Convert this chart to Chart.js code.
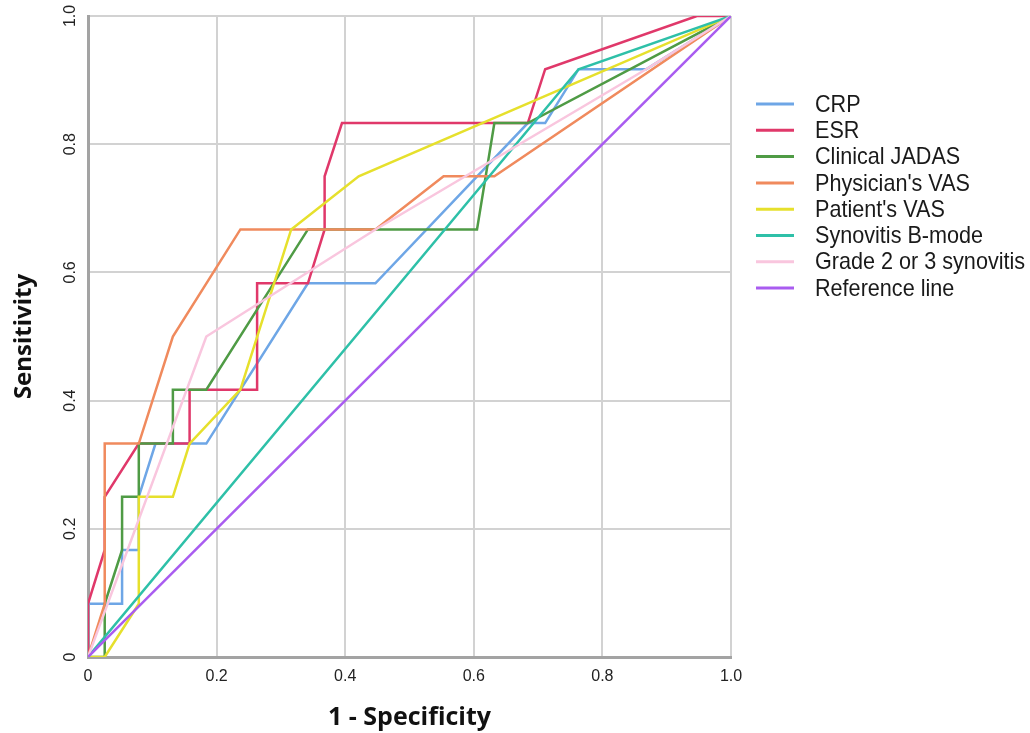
<!DOCTYPE html>
<html>
<head>
<meta charset="utf-8">
<script src="https://cdn.jsdelivr.net/npm/chart.js@4.4.1/dist/chart.umd.min.js"></script>
<style>
  html, body { margin: 0; padding: 0; background: #fff; }
</style>
</head>
<body>
<canvas id="roc" width="1030" height="733"></canvas>
<script>
// ROC curves: x = 1 - specificity, y = sensitivity
const seriesNames = ['CRP', 'ESR', 'Clinical JADAS', "Physician's VAS", "Patient's VAS",
  'Synovitis B-mode', 'Grade 2 or 3 synovitis', 'Reference line'];
const seriesColors = ['#6ea6e6', '#e0386a', '#4f9b45', '#f08a5d', '#e6e02c',
  '#2ec0a8', '#f9c6de', '#a95cf0'];

const crpX = [0, 0, 0.053, 0.053, 0.079, 0.079, 0.105, 0.184, 0.342, 0.447, 0.684, 0.711, 0.763, 0.868, 1];
const crpY = [0, 0.083, 0.083, 0.167, 0.167, 0.25, 0.333, 0.333, 0.583, 0.583, 0.833, 0.833, 0.917, 0.917, 1];

const esrX = [0, 0, 0.026, 0.026, 0.079, 0.158, 0.158, 0.263, 0.263, 0.342, 0.368, 0.368, 0.395, 0.684, 0.711, 0.947, 1];
const esrY = [0, 0.083, 0.167, 0.25, 0.333, 0.333, 0.417, 0.417, 0.583, 0.583, 0.667, 0.75, 0.833, 0.833, 0.917, 1, 1];

const jadasX = [0, 0.026, 0.026, 0.053, 0.053, 0.079, 0.079, 0.132, 0.132, 0.184, 0.342, 0.605, 0.632, 0.684, 1];
const jadasY = [0, 0, 0.083, 0.167, 0.25, 0.25, 0.333, 0.333, 0.417, 0.417, 0.667, 0.667, 0.833, 0.833, 1];

const physX = [0, 0.026, 0.026, 0.079, 0.132, 0.237, 0.447, 0.553, 0.632, 1];
const physY = [0, 0.083, 0.333, 0.333, 0.5, 0.667, 0.667, 0.75, 0.75, 1];

const patX = [0, 0.026, 0.079, 0.079, 0.132, 0.158, 0.237, 0.316, 0.421, 1];
const patY = [0, 0, 0.083, 0.25, 0.25, 0.333, 0.417, 0.667, 0.75, 1];

const bmodeX = [0, 0.763, 1];
const bmodeY = [0, 0.917, 1];

const gradeX = [0, 0.184, 0.447, 0.868, 1];
const gradeY = [0, 0.5, 0.667, 0.917, 1];

const refX = [0, 1];
const refY = [0, 1];

const xTicks = [0, 0.2, 0.4, 0.6, 0.8, 1.0];
const yTicks = [0, 0.2, 0.4, 0.6, 0.8, 1.0];

const curves = [[crpX, crpY], [esrX, esrY], [jadasX, jadasY], [physX, physY],
  [patX, patY], [bmodeX, bmodeY], [gradeX, gradeY], [refX, refY]];

function toPoints(xs, ys) {
  return xs.map((x, i) => ({ x: x, y: ys[i] }));
}

const datasets = curves.map((c, i) => ({
  label: seriesNames[i],
  data: toPoints(c[0], c[1]),
  borderColor: seriesColors[i],
  backgroundColor: seriesColors[i],
  borderWidth: 2.5,
  pointRadius: 0,
  tension: 0,
  fill: false,
  order: curves.length - i
}));

const tickLabel = v => (v === 0 ? '0' : v.toFixed(1));

// legend drawn beside the plot, lines + slightly condensed text like the original
const sideLegend = {
  id: 'sideLegend',
  afterDraw(chart) {
    const ctx = chart.ctx;
    const x0 = chart.chartArea.right + 25;
    ctx.save();
    chart.data.datasets.forEach((ds, i) => {
      const y = 104 + i * 26.3;
      ctx.strokeStyle = ds.borderColor;
      ctx.lineWidth = 3;
      ctx.beginPath();
      ctx.moveTo(x0, y);
      ctx.lineTo(x0 + 38, y);
      ctx.stroke();
      ctx.save();
      ctx.translate(x0 + 59, y + 1);
      ctx.scale(0.9, 1);
      ctx.fillStyle = '#1a1a1a';
      ctx.font = '24px "Liberation Sans", Arial, sans-serif';
      ctx.textBaseline = 'middle';
      ctx.fillText(ds.label, 0, 0);
      ctx.restore();
    });
    ctx.restore();
  }
};

const whiteBg = {
  id: 'whiteBg',
  beforeDraw(chart) {
    const ctx = chart.ctx;
    ctx.save();
    ctx.fillStyle = '#ffffff';
    ctx.fillRect(0, 0, chart.width, chart.height);
    ctx.restore();
  }
};

new Chart(document.getElementById('roc'), {
  type: 'line',
  data: { datasets: datasets },
  plugins: [whiteBg, sideLegend],
  options: {
    responsive: false,
    animation: false,
    devicePixelRatio: 1,
    layout: { padding: { top: 16, right: 299, bottom: 0, left: 0 } },
    plugins: {
      legend: { display: false },
      tooltip: { enabled: false }
    },
    scales: {
      x: {
        type: 'linear',
        min: 0,
        max: 1,
        afterBuildTicks: s => { s.ticks = xTicks.map(v => ({ value: v })); },
        afterFit: s => { s.height = 76; },
        ticks: {
          callback: tickLabel,
          color: '#222',
          padding: 10,
          font: { family: '"Liberation Sans", Arial, sans-serif', size: 16 }
        },
        grid: { color: '#d2d2d2', lineWidth: 2, drawTicks: false },
        border: { color: '#a3a3a3', width: 3 },
        title: {
          display: true,
          text: '1 - Specificity',
          color: '#111',
          padding: { top: 0, bottom: 0 },
          font: { family: '"Open Sans", sans-serif', size: 25, weight: 'bold' }
        }
      },
      y: {
        type: 'linear',
        min: 0,
        max: 1,
        afterBuildTicks: s => { s.ticks = yTicks.map(v => ({ value: v })); },
        afterFit: s => { s.width = 88; },
        ticks: {
          callback: tickLabel,
          color: '#222',
          padding: 6,
          minRotation: 90,
          maxRotation: 90,
          crossAlign: 'center',
          font: { family: '"Liberation Sans", Arial, sans-serif', size: 16 }
        },
        grid: { color: '#d2d2d2', lineWidth: 2, drawTicks: false },
        border: { color: '#a3a3a3', width: 3 },
        title: {
          display: true,
          text: 'Sensitivity',
          color: '#111',
          padding: { top: 10, bottom: 0 },
          font: { family: '"Open Sans", sans-serif', size: 24, weight: 'bold' }
        }
      }
    }
  }
});
</script>
</body>
</html>
